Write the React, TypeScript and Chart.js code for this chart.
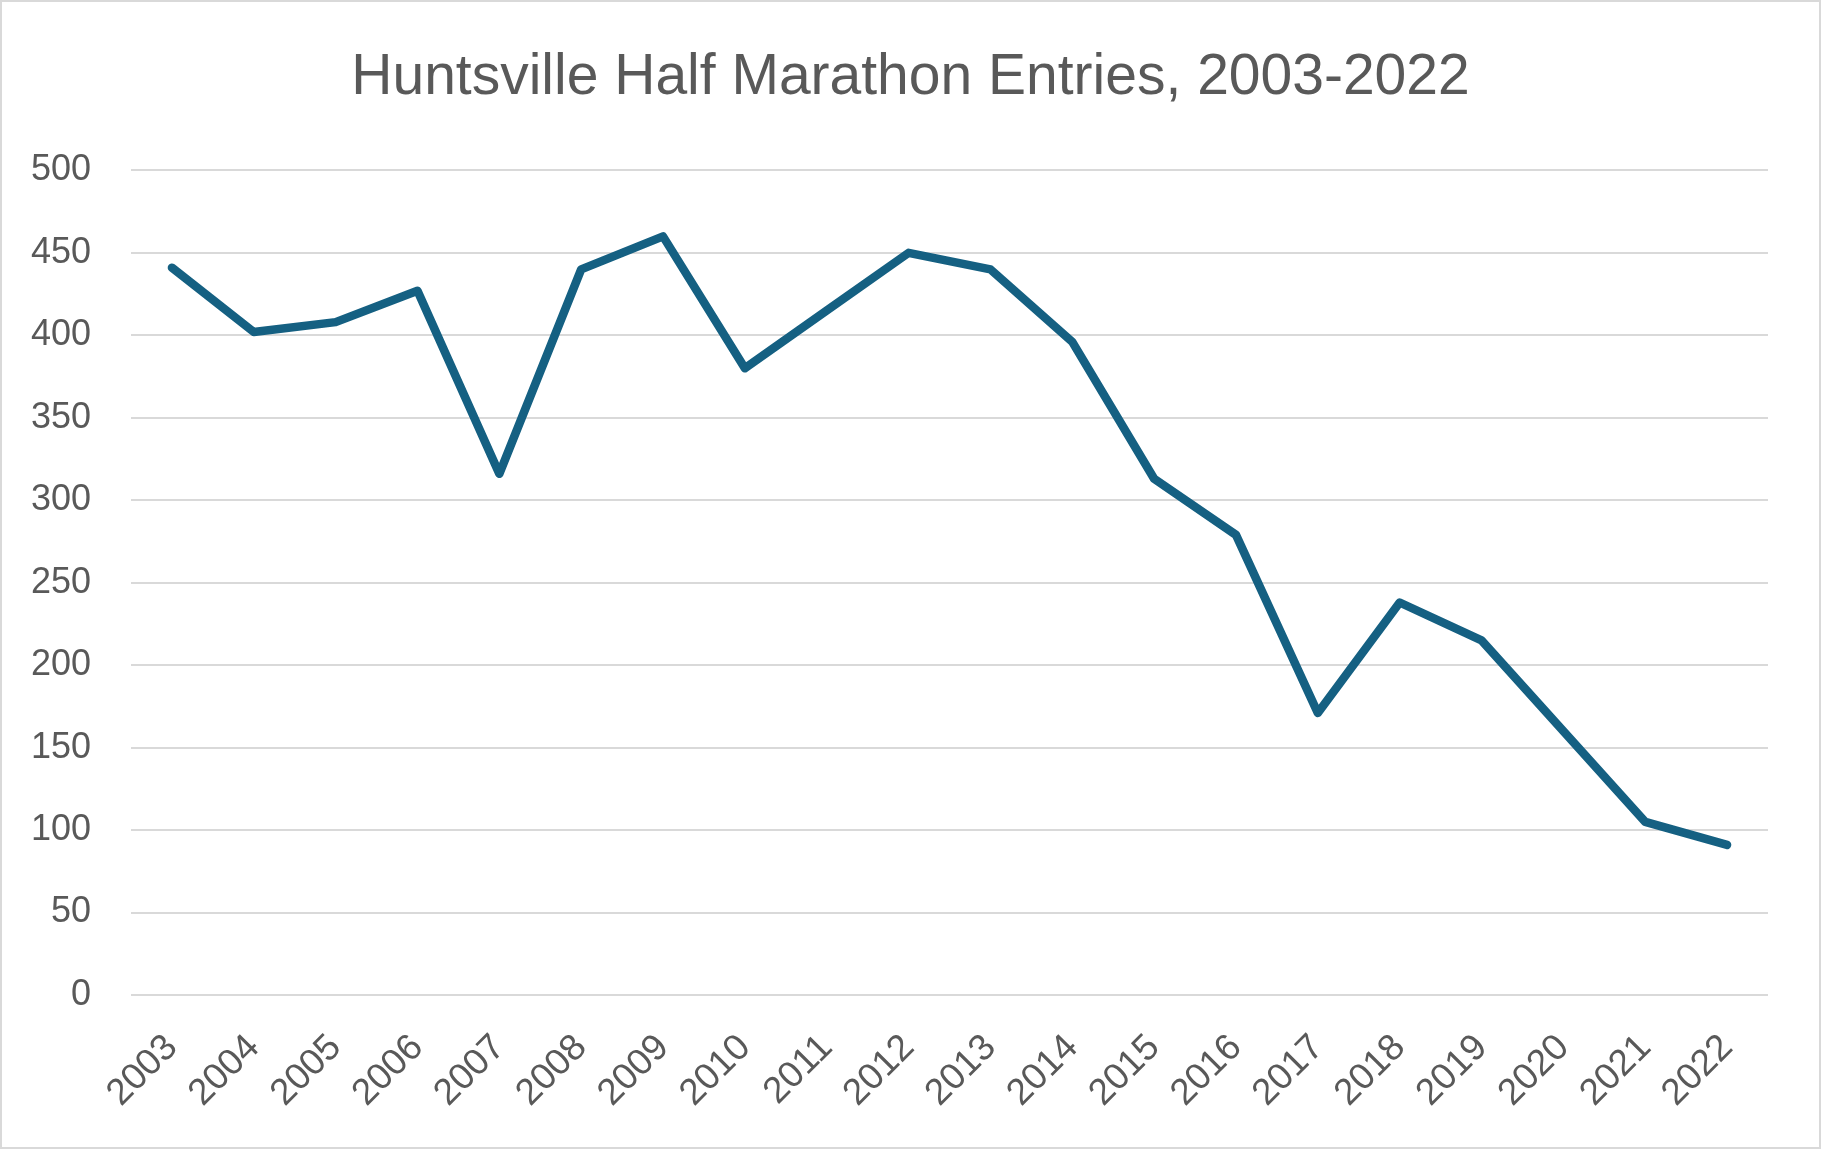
import { useEffect, useRef } from "react";
import { Chart, registerables } from "chart.js";

Chart.register(...registerables);

const years = [
  "2003", "2004", "2005", "2006", "2007", "2008", "2009", "2010", "2011", "2012",
  "2013", "2014", "2015", "2016", "2017", "2018", "2019", "2020", "2021", "2022",
];
const entries = [
  441, 402, 408, 427, 316, 440, 460, 380, 415, 450,
  440, 396, 313, 279, 171, 238, 215, 160, 105, 91,
];
const yMin = 0;
const yMax = 500;
const yStep = 50;

const TEXT = "#595959";
const GRID = "#d9d9d9";
const FONT = "'Liberation Sans', Arial, sans-serif";

// thin grey frame round the whole chart, like the spreadsheet export
const framePlugin = {
  id: "frame",
  beforeDraw(chart: Chart) {
    const { ctx, width, height } = chart;
    ctx.save();
    ctx.fillStyle = "#ffffff";
    ctx.fillRect(0, 0, width, height);
    ctx.strokeStyle = GRID;
    ctx.lineWidth = 2;
    ctx.strokeRect(1, 1, width - 2, height - 2);
    ctx.restore();
  },
};

export default function App() {
  const canvasRef = useRef<HTMLCanvasElement>(null);
  const chartRef = useRef<Chart | null>(null);

  useEffect(() => {
    document.body.style.margin = "0";
    const ctx = canvasRef.current?.getContext("2d");
    if (!ctx) return;

    chartRef.current?.destroy();
    chartRef.current = new Chart(ctx, {
      type: "line",
      data: {
        labels: years,
        datasets: [
          {
            label: "Entries",
            data: entries,
            borderColor: "#156082",
            backgroundColor: "#156082",
            borderWidth: 8.5,
            borderJoinStyle: "round",
            borderCapStyle: "round",
            pointRadius: 0,
            tension: 0,
          },
        ],
      },
      options: {
        animation: false,
        responsive: true,
        maintainAspectRatio: false,
        layout: { padding: 0 },
        plugins: {
          legend: { display: false },
          tooltip: { enabled: false },
          title: {
            display: true,
            text: "Huntsville Half Marathon Entries, 2003-2022",
            color: TEXT,
            font: { family: FONT, size: 57, weight: "normal" },
            padding: { top: 44, bottom: 58 },
          },
        },
        scales: {
          x: {
            offset: true,
            grid: { display: false, offset: true },
            border: { display: false },
            ticks: {
              color: TEXT,
              font: { family: FONT, size: 37 },
              minRotation: 45,
              maxRotation: 45,
              autoSkip: false,
              padding: 23,
            },
            afterFit(scale) {
              scale.height = 154;
            },
          },
          y: {
            min: yMin,
            max: yMax,
            grid: { color: GRID, lineWidth: 2, drawTicks: false },
            border: { display: false },
            ticks: {
              stepSize: yStep,
              color: TEXT,
              font: { family: FONT, size: 36 },
              padding: 40,
            },
            afterFit(scale) {
              scale.width = 131;
            },
          },
          // empty right-hand gutter so the title stays centred on the whole frame
          gutter: {
            type: "linear",
            position: "right",
            grid: { display: false },
            border: { display: false },
            ticks: { display: false },
            afterFit(scale) {
              scale.width = 53;
            },
          },
        },
      },
      plugins: [framePlugin],
    });

    return () => {
      chartRef.current?.destroy();
      chartRef.current = null;
    };
  }, []);

  return (
    <div style={{ width: 1821, height: 1149, position: "relative" }}>
      <canvas ref={canvasRef} />
    </div>
  );
}
